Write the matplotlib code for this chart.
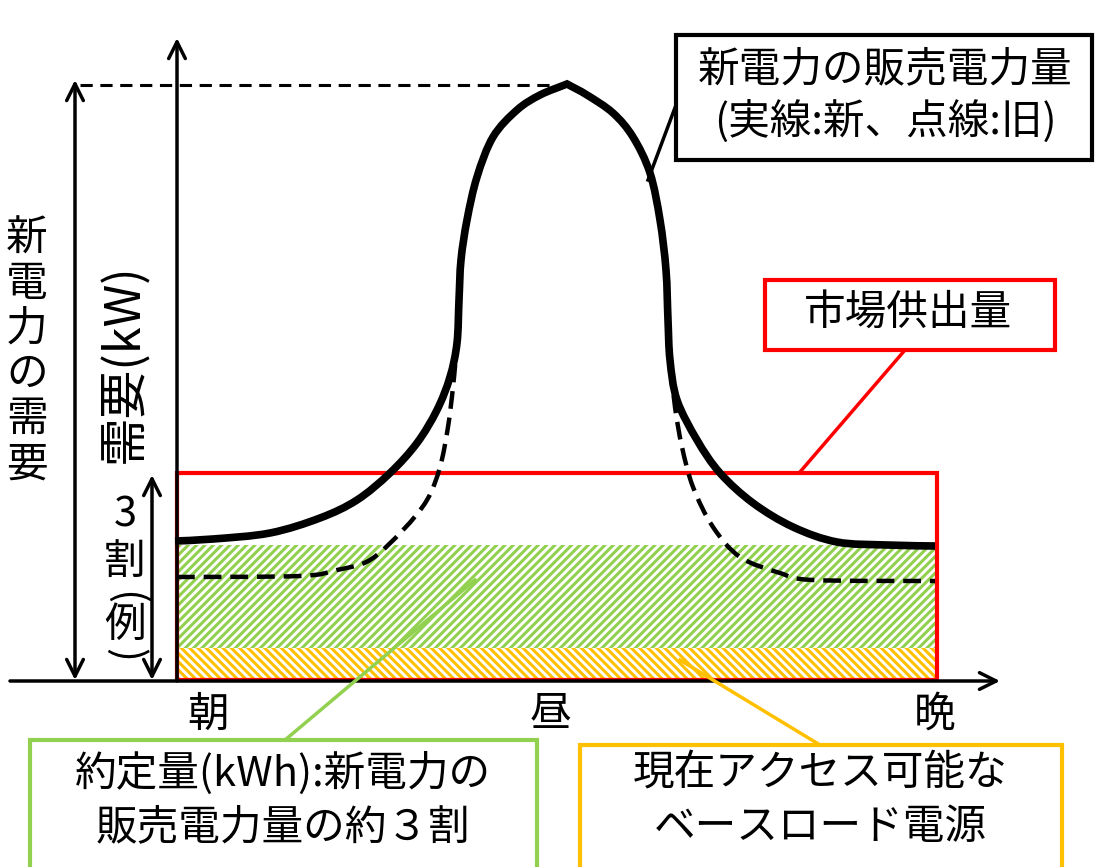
import numpy as np
import matplotlib.pyplot as plt
from matplotlib.patches import Rectangle, PathPatch
from matplotlib.path import Path

plt.rcParams['font.family'] = ['Noto Sans CJK JP', 'DejaVu Sans']
plt.rcParams['hatch.linewidth'] = 2.2

# curves (x, y in picture pixels, y grows downwards)
new_x = [175, 213, 270, 320, 357, 390, 417, 437, 450, 457, 459, 461, 467, 477, 493, 517, 540, 567,
         587, 613, 633, 650, 660, 666, 668, 670, 677, 697, 720, 753, 793, 837, 887, 935]
new_y = [541, 539, 533, 518, 500, 473, 443, 410, 377, 343, 300, 260, 220, 177, 137, 110, 95, 84,
         95, 113, 137, 173, 220, 270, 320, 360, 400, 440, 473, 503, 527, 542, 545, 546]
old_x = [177, 300, 337, 370, 403, 427, 440, 448, 453, 457, 459, 461, 467, 477, 493, 517, 540, 567,
         587, 613, 633, 650, 660, 666, 668, 671, 675, 682, 693, 713, 740, 780, 813, 935]
old_y = [577, 576, 570, 560, 530, 500, 467, 427, 387, 343, 300, 260, 220, 177, 137, 110, 95, 84,
         95, 113, 137, 173, 220, 270, 320, 365, 407, 447, 487, 527, 557, 573, 580, 581]

left, right, base = 177, 937, 680
market_top = 473
contract_top, base_top = 545, 648
peak_y = 85


def smooth_path(xs, ys):
    # bezier through the read points, with a sharp corner at the peak
    p = np.column_stack([xs, ys]).astype(float)
    n = len(p)
    k = int(np.argmin(p[:, 1]))
    verts, codes = [p[0]], [Path.MOVETO]
    for i in range(n - 1):
        t0 = p[i + 1] - p[max(i - 1, 0)] if i != k else (p[i + 1] - p[i]) * 2
        t1 = p[min(i + 2, n - 1)] - p[i] if i + 1 != k else (p[i + 1] - p[i]) * 2
        verts += [p[i] + t0 / 6, p[i + 1] - t1 / 6, p[i + 1]]
        codes += [Path.CURVE4] * 3
    return Path(verts, codes)


fig = plt.figure(figsize=(11.03, 8.67), dpi=100)
ax = fig.add_axes([0, 0, 1, 1])
ax.set_xlim(0, 1103)
ax.set_ylim(867, 0)
ax.axis('off')

# hatched areas
ax.add_patch(Rectangle((left, contract_top), right - left, base_top - contract_top,
                       facecolor='none', edgecolor='#92D050', hatch='////', lw=0, zorder=1))
ax.add_patch(Rectangle((left, base_top), right - left, base - base_top,
                       facecolor='none', edgecolor='#FFC000', hatch='\\\\\\\\', lw=0, zorder=1))
ax.add_patch(Rectangle((left, market_top), right - left, base - market_top,
                       facecolor='none', edgecolor='#FF0000', lw=3, zorder=3))

# axes
arr = dict(arrowstyle='->', color='black', lw=2.5, mutation_scale=30, shrinkA=0, shrinkB=0)
ax.annotate('', xy=(left, 38), xytext=(left, base + 1), arrowprops=arr, zorder=4)
ax.annotate('', xy=(1000, base + 1), xytext=(10, base + 1), arrowprops=arr, zorder=4)
arr2 = dict(arr, arrowstyle='<->')
ax.annotate('', xy=(75, 80), xytext=(75, base), arrowprops=arr2)
ax.annotate('', xy=(152, 475), xytext=(152, base), arrowprops=arr2)
ax.plot([80, 567], [peak_y, peak_y], color='black', lw=2.2, ls=(0, (4, 2.5)))

# curves
ax.add_patch(PathPatch(smooth_path(old_x, old_y), facecolor='none', edgecolor='black',
                       lw=3.2, ls=(0, (4, 2)), zorder=5))
ax.add_patch(PathPatch(smooth_path(new_x, new_y), facecolor='none', edgecolor='black',
                       lw=5.5, capstyle='butt', joinstyle='miter', zorder=6))

fs = 30
# callouts
ax.add_patch(Rectangle((676, 35), 416, 125, facecolor='white', edgecolor='black', lw=3, zorder=7))
ax.text(885, 70, '新電力の販売電力量', fontsize=fs, ha='center', va='center', zorder=8)
ax.text(885, 122, '(実線:新、点線:旧)', fontsize=fs, ha='center', va='center', zorder=8)
ax.plot([676, 648], [105, 180], color='black', lw=2.5, zorder=6)

ax.add_patch(Rectangle((765, 280), 290, 70, facecolor='white', edgecolor='#FF0000', lw=3, zorder=7))
ax.text(908, 313, '市場供出量', fontsize=fs, ha='center', va='center', zorder=8)
ax.plot([905, 800], [350, 472], color='#FF0000', lw=2.5, zorder=4)

ax.add_patch(Rectangle((30, 740), 507, 160, facecolor='white', edgecolor='#92D050', lw=3, zorder=7))
ax.text(283, 773, '約定量(kWh):新電力の', fontsize=fs, ha='center', va='center', zorder=8)
ax.text(283, 828, '販売電力量の約３割', fontsize=fs, ha='center', va='center', zorder=8)
ax.plot([285, 475], [740, 580], color='#92D050', lw=2.5, zorder=4)

ax.add_patch(Rectangle((580, 745), 482, 160, facecolor='white', edgecolor='#FFC000', lw=3, zorder=7))
ax.text(820, 773, '現在アクセス可能な', fontsize=fs, ha='center', va='center', zorder=8)
ax.text(820, 828, 'ベースロード電源', fontsize=fs, ha='center', va='center', zorder=8)
ax.plot([820, 680], [745, 660], color='#FFC000', lw=2.5, zorder=4)

# time labels
for lab, x in zip(['朝', '昼', '晩'], [208, 550, 935]):
    ax.text(x, 715, lab, fontsize=fs, ha='center', va='center')

# left labels
ax.text(27, 352, '新\n電\n力\nの\n需\n要', fontsize=fs, ha='center', va='center', linespacing=1.13)
ax.text(125, 363, '需要(kW)', fontsize=35, rotation=90, ha='center', va='center')
for ch, y, rot in zip(['3', '割', '(', '例', ')'], [515, 562, 598, 625, 655], [0, 0, -90, 0, -90]):
    ax.text(125, y, ch, fontsize=fs, rotation=rot, ha='center', va='center')

fig.savefig('out.png', dpi=100)
